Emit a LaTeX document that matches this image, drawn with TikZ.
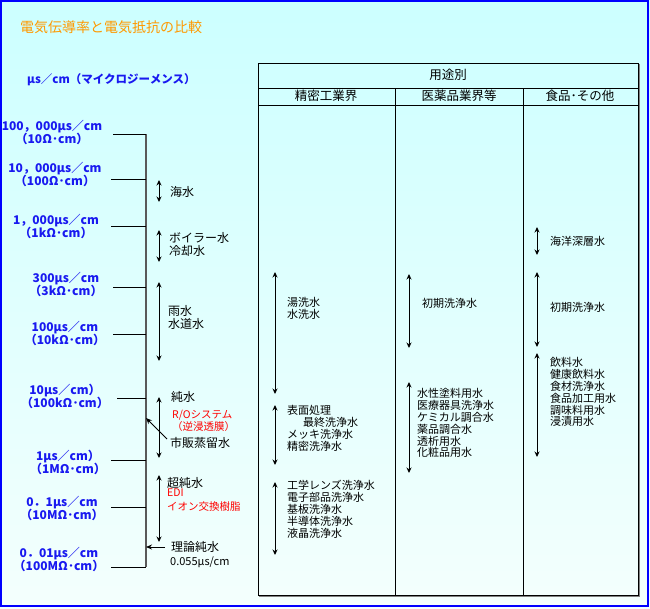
\documentclass[tikz,border=0pt]{standalone}
\usepackage{fontspec}
\setmainfont{Noto Sans CJK JP}
\usetikzlibrary{arrows.meta}
\definecolor{bgtop}{RGB}{204,255,255}
\definecolor{bgbottom}{RGB}{244,255,253}
\definecolor{frameblue}{RGB}{0,0,255}
\definecolor{valblue}{RGB}{25,25,240}
\definecolor{titleorange}{RGB}{255,153,0}
\definecolor{notered}{RGB}{255,0,0}
\tikzset{
  val/.style={text=valblue,font=\bfseries\fontsize{12}{13}\selectfont,align=center,inner sep=0pt},
  txt/.style={anchor=north west,inner sep=0pt,align=left,font=\fontsize{11}{12}\selectfont},
  big/.style={txt,font=\fontsize{12}{13.5}\selectfont},
  redtxt/.style={txt,text=notered,font=\fontsize{10.5}{12}\selectfont},
  head/.style={inner sep=0pt,font=\fontsize{12.5}{14}\selectfont},
  rng/.style={{Stealth[length=5.5pt,width=5pt]}-{Stealth[length=5.5pt,width=5pt]},line width=0.9pt},
  ptr/.style={-{Stealth[length=6pt,width=5pt]},line width=0.9pt},
  scaletick/.style={line width=1pt}
}
\begin{document}
\begin{tikzpicture}[x=1pt,y=-1pt]
\useasboundingbox (0,0) rectangle (650,608);
\shade[top color=bgtop,bottom color=bgbottom] (0,0) rectangle (650,608);
\draw[frameblue,line width=2pt] (1,1) rectangle (648,606);

\node[anchor=west,inner sep=0pt,text=titleorange,font=\fontsize{14}{16}\selectfont] (title) at (20,27) {電気伝導率と電気抵抗の比較};
\node[anchor=west,inner sep=0pt,text=valblue,font=\bfseries\fontsize{11.5}{13}\selectfont] (unit) at (27,80) {µs／cm（マイクロジーメンス）};

\coordinate (axtop) at (146,134);
\coordinate (axbot) at (146,567);
\coordinate (tk1) at (113,134);
\coordinate (tk2) at (111,179);
\coordinate (tk3) at (111,226);
\coordinate (tk4) at (113,287);
\coordinate (tk5) at (113,334);
\coordinate (tk6) at (117,398);
\coordinate (tk7) at (111,460);
\coordinate (tk8) at (111,507);
\coordinate (tk9) at (111,567);

\draw[gray!70!black,line width=1.2pt] (axtop) -- (axbot);
\foreach \t in {tk1,tk2,tk3,tk4,tk5,tk6,tk7,tk8,tk9}
  \draw[scaletick] (\t) -- (\t -| axtop);

\node[val] (v1) at (52,132.5) {100，000µs／cm\\（10Ω･cm）};
\node[val] (v2) at (55,174.5) {10，000µs／cm\\（100Ω･cm）};
\node[val] (v3) at (56,226.5) {1，000µs／cm\\（1kΩ･cm）};
\node[val] (v4) at (66,284.5) {300µs／cm\\（3kΩ･cm）};
\node[val] (v5) at (65,333.5) {100µs／cm\\（10kΩ･cm）};
\node[val] (v6) at (65,396.5) {10µs／cm）\\（100kΩ･cm）};
\node[val] (v7) at (68,462.5) {1µs／cm）\\（1MΩ･cm）};
\node[val] (v8) at (62,508.5) {0．1µs／cm\\（10MΩ･cm）};
\node[val] (v9) at (59,559.5) {0．01µs／cm\\（100MΩ･cm）};

\coordinate (sea1) at (159,180);
\coordinate (sea2) at (159,202);
\coordinate (boil1) at (159,230);
\coordinate (boil2) at (159,262);
\coordinate (rain1) at (159,282);
\coordinate (rain2) at (159,361);
\coordinate (pure1) at (159,397);
\coordinate (pure2) at (159,458);
\coordinate (ultra1) at (159,475);
\coordinate (ultra2) at (159,542);
\coordinate (stillp) at (167,439);
\coordinate (stillax) at (146,418);
\coordinate (theop) at (165,547);
\coordinate (theoax) at (146,547);

\draw[rng] (sea1) -- (sea2);
\draw[rng] (boil1) -- (boil2);
\draw[rng] (rain1) -- (rain2);
\draw[rng] (pure1) -- (pure2);
\draw[rng] (ultra1) -- (ultra2);
\draw[ptr] (stillp) -- (stillax);
\draw[ptr] (theop) -- (theoax);

\node[big] (sea) at (170,186) {海水};
\node[big] (boil) at (169,232) {ボイラー水\\冷却水};
\node[big] (rain) at (168,305) {雨水\\水道水};
\node[big] (pure) at (171,391) {純水};
\node[redtxt] (ro) at (172,410) {R/Oシステム\\（逆浸透膜）};
\node[big] (still) at (170,437) {市販蒸留水};
\node[big] (ultra) at (167,477) {超純水};
\node[redtxt,font=\fontsize{10.5}{14}\selectfont] (edi) at (167,489) {EDI\\イオン交換樹脂};
\node[big] (theory) at (171,541) {理論純水};
\node[txt] (theoval) at (170,556.5) {0.055µs/cm};

\draw[line width=1pt] (258,63) rectangle (638,595);
\draw[gray,line width=1pt] (639.5,64) -- (639.5,596.5) -- (259,596.5);
\draw (258,88) -- (638,88);
\draw (258,105) -- (638,105);
\draw (395,88) -- (395,595);
\draw (523,88) -- (523,595);
\node[head] (use) at (448,75) {用途別};
\node[head] (prec) at (326,96) {精密工業界};
\node[head] (med) at (459,96) {医薬品業界等};
\node[head] (food) at (580,96) {食品･その他};

\coordinate (pa1) at (275,272);
\coordinate (pa2) at (275,394);
\coordinate (pb1) at (275,405);
\coordinate (pb2) at (275,465);
\coordinate (pc1) at (275,482);
\coordinate (pc2) at (275,555);
\coordinate (ma1) at (409,274);
\coordinate (ma2) at (409,348);
\coordinate (mb1) at (409,382);
\coordinate (mb2) at (409,473);
\coordinate (fa1) at (537,227);
\coordinate (fa2) at (537,255);
\coordinate (fb1) at (537,272);
\coordinate (fb2) at (537,347);
\coordinate (fc1) at (537,353);
\coordinate (fc2) at (537,457);

\draw[rng] (pa1) -- (pa2);
\draw[rng] (pb1) -- (pb2);
\draw[rng] (pc1) -- (pc2);
\draw[rng] (ma1) -- (ma2);
\draw[rng] (mb1) -- (mb2);
\draw[rng] (fa1) -- (fa2);
\draw[rng] (fb1) -- (fb2);
\draw[rng] (fc1) -- (fc2);

\node[txt] (hot) at (287,297.5) {湯洗水\\水洗水};
\node[txt] (surf) at (287,405) {表面処理\\\hspace*{16pt}最終洗浄水\\メッキ洗浄水\\精密洗浄水};
\node[txt] (optic) at (287,479.5) {工学レンズ洗浄水\\電子部品洗浄水\\基板洗浄水\\半導体洗浄水\\液晶洗浄水};
\node[txt] (init1) at (422,298.5) {初期洗浄水};
\node[txt,font=\fontsize{11}{11.8}\selectfont] (paint) at (417,388.5) {水性塗料用水\\医療器具洗浄水\\ケミカル調合水\\薬品調合水\\透析用水\\化粧品用水};
\node[txt] (deep) at (550,236.5) {海洋深層水};
\node[txt] (init2) at (550,302.5) {初期洗浄水};
\node[txt,font=\fontsize{11}{11.8}\selectfont] (drink) at (550,357.5) {飲料水\\健康飲料水\\食材洗浄水\\食品加工用水\\調味料用水\\浸漬用水};
\end{tikzpicture}
\end{document}
